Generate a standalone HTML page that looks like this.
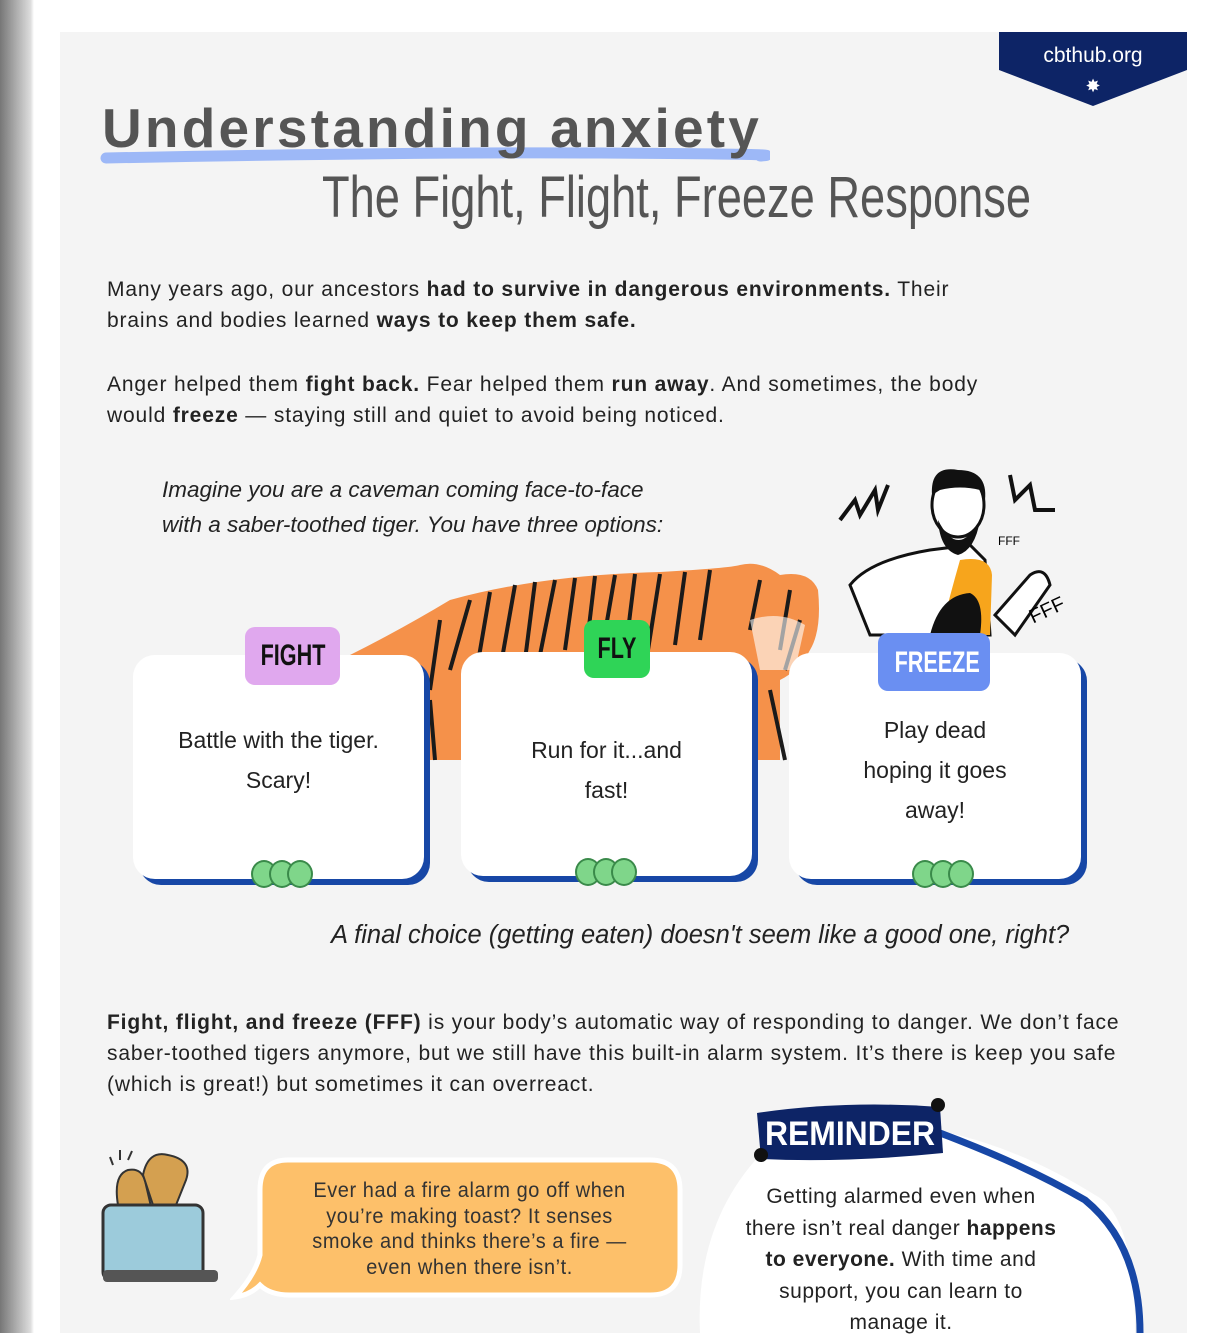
<!DOCTYPE html>
<html><head><meta charset="utf-8"><style>
*{margin:0;padding:0;box-sizing:border-box}
body{width:1213px;height:1333px;background:#fff;position:relative;overflow:hidden;font-family:"Liberation Sans",sans-serif;color:#222}
.a{position:absolute}
.shadow{left:0;top:0;width:34px;height:1333px;background:linear-gradient(90deg,#777,#bbb 60%,#ddd 90%,#fff)}
.panel{left:60px;top:32px;width:1127px;height:1301px;background:#f4f4f4}
.p{font-size:21px;line-height:31px;color:#222;white-space:nowrap;letter-spacing:0.85px}
.hand{font-style:italic;white-space:nowrap}
.card{background:#fff;border-radius:22px;box-shadow:6px 6px 0 #1747a6}
.tag{border-radius:10px;font-weight:bold;text-align:center;font-size:30px;overflow:hidden}
.tag span{display:inline-block;transform:scaleX(0.72)}
.ct{text-align:center;font-size:23px;line-height:40px;color:#222}
.dots{width:62px;height:28px}
.dots i{position:absolute;top:0;width:26px;height:28px;border-radius:50%;background:#7fd68a;border:2px solid #3a8a4a}
</style></head><body>
<div class="a shadow"></div>
<div class="a panel"></div>
<svg class="a" style="left:999px;top:32px" width="188" height="74"><polygon points="0,0 188,0 188,38 94,74 0,38" fill="#0d2466"/><text x="94" y="30" fill="#fff" font-family="Liberation Sans" font-size="21" text-anchor="middle">cbthub.org</text><text x="94" y="60" fill="#fff" font-size="18" text-anchor="middle">✸</text></svg>
<svg class="a" style="left:100px;top:140px" width="670" height="30"><path d="M6,18 Q300,12 500,13 T660,16" stroke="#9db8f7" stroke-width="11" fill="none" stroke-linecap="round"/></svg>
<div class="a" style="left:102px;top:96px;font-size:55px;font-weight:bold;color:#555;letter-spacing:3.2px;white-space:nowrap">Understanding anxiety</div>
<div class="a" style="left:322px;top:164px;font-size:58px;color:#555;transform:scaleX(0.78);transform-origin:left;white-space:nowrap">The Fight, Flight, Freeze Response</div>
<div class="a p" style="left:107px;top:274px">Many years ago, our ancestors <b>had to survive in dangerous environments.</b> Their<br>brains and bodies learned <b>ways to keep them safe.</b></div>
<div class="a p" style="left:107px;top:369px">Anger helped them <b>fight back.</b> Fear helped them <b>run away</b>. And sometimes, the body<br>would <b>freeze</b> — staying still and quiet to avoid being noticed.</div>
<div class="a hand" style="left:162px;top:472px;font-size:22.5px;line-height:35px;color:#222">Imagine you are a caveman coming face-to-face<br>with a saber-toothed tiger. You have three options:</div>
<!-- tiger -->
<svg class="a" style="left:340px;top:560px" width="490" height="210">
<path d="M10,95 Q60,70 110,40 Q200,15 320,12 Q390,8 400,5 Q420,0 440,15 Q470,10 478,30 Q482,70 470,90 Q460,110 440,120 L440,200 L80,200 Q70,180 70,150 Q60,120 30,100 Z" fill="#f5914a"/>
<g stroke="#1a1a1a" stroke-width="4" fill="none">
<path d="M130,40 L110,110"/><path d="M150,32 L135,120"/><path d="M175,25 L160,110"/><path d="M195,22 L185,100"/><path d="M215,20 L200,95"/><path d="M235,18 L225,90"/><path d="M255,16 L245,100"/><path d="M275,15 L262,90"/><path d="M295,14 L285,95"/><path d="M320,14 L308,90"/><path d="M345,12 L335,85"/><path d="M370,10 L360,80"/><path d="M100,60 L90,130"/><path d="M420,20 L410,70"/><path d="M450,30 L440,90"/><path d="M460,60 L445,110"/><path d="M90,140 L95,200"/><path d="M430,130 L445,200"/>
</g>
<path d="M410,60 Q440,50 465,65 L455,110 L420,110 Z" fill="#fff" opacity="0.6"/>
</svg>
<!-- caveman -->
<svg class="a" style="left:830px;top:465px" width="240" height="180">
<path d="M20,120 Q40,95 100,85 L140,80 L155,95 L160,170 L40,170 Z" fill="#fff" stroke="#111" stroke-width="3"/>
<path d="M130,95 Q160,90 162,110 L160,170 L110,170 Q120,130 130,95Z" fill="#f7a51c"/>
<path d="M100,170 Q110,130 140,128 Q155,135 150,170Z" fill="#111"/>
<path d="M165,150 L200,110 Q215,100 220,120 L185,170Z" fill="#fff" stroke="#111" stroke-width="3"/>
<ellipse cx="128" cy="40" rx="26" ry="32" fill="#fff" stroke="#111" stroke-width="3"/>
<path d="M102,30 Q100,0 128,5 Q158,5 155,35 L150,25 Q130,20 110,25Z" fill="#111"/>
<path d="M108,55 Q128,95 150,55 Q145,85 128,90 Q110,85 108,55Z" fill="#111"/>
<text x="168" y="80" font-size="12" font-family="Liberation Sans">FFF</text>
<text x="200" y="155" font-size="20" font-family="Liberation Sans" transform="rotate(-25 210 150)">FFF</text>
<path d="M10,55 L25,35 L30,50 L45,25 L48,45 L58,20" stroke="#111" stroke-width="4" fill="none"/>
<path d="M180,10 L185,35 L200,20 L205,45 L225,45" stroke="#111" stroke-width="4" fill="none"/>
</svg>
<!-- cards -->
<div class="a card" style="left:133px;top:655px;width:291px;height:224px"></div>
<div class="a card" style="left:461px;top:652px;width:291px;height:224px"></div>
<div class="a card" style="left:789px;top:653px;width:292px;height:226px"></div>
<div class="a tag" style="left:245px;top:627px;width:95px;height:58px;line-height:58px;background:#e0a8ee;color:#111"><span>FIGHT</span></div>
<div class="a tag" style="left:584px;top:620px;width:66px;height:58px;line-height:58px;background:#2fd457;color:#111"><span>FLY</span></div>
<div class="a tag" style="left:878px;top:633px;width:112px;height:58px;line-height:60px;background:#6a8ff2;color:#fff"><span>FREEZE</span></div>
<div class="a ct" style="left:133px;top:720px;width:291px">Battle with the tiger.<br>Scary!</div>
<div class="a ct" style="left:461px;top:730px;width:291px">Run for it...and<br>fast!</div>
<div class="a ct" style="left:789px;top:710px;width:292px">Play dead<br>hoping it goes<br>away!</div>
<div class="a dots" style="left:251px;top:860px"><i style="left:0"></i><i style="left:18px"></i><i style="left:36px"></i></div>
<div class="a dots" style="left:575px;top:858px"><i style="left:0"></i><i style="left:18px"></i><i style="left:36px"></i></div>
<div class="a dots" style="left:912px;top:860px"><i style="left:0"></i><i style="left:18px"></i><i style="left:36px"></i></div>
<div class="a hand" style="left:331px;top:921px;font-size:25.5px;color:#222">A final choice (getting eaten) doesn't seem like a good one, right?</div>
<div class="a p" style="left:107px;top:1007px"><b>Fight, flight, and freeze (FFF)</b> is your body’s automatic way of responding to danger. We don’t face<br>saber-toothed tigers anymore, but we still have this built-in alarm system.  It’s there is keep you safe<br>(which is great!) but sometimes it can overreact.</div>
<!-- toaster -->
<svg class="a" style="left:98px;top:1145px" width="125" height="145">
<path d="M20,60 Q15,30 30,25 Q45,22 48,40 L55,70Z" fill="#d4a050" stroke="#333" stroke-width="2"/>
<path d="M45,30 Q50,5 70,10 Q95,15 88,35 L78,60 L55,60Z" fill="#d4a050" stroke="#333" stroke-width="2"/>
<rect x="5" y="60" width="100" height="75" rx="8" fill="#9ccbdb" stroke="#333" stroke-width="3"/>
<rect x="5" y="125" width="115" height="12" rx="4" fill="#555"/>
<path d="M15,20 L12,12 M22,15 L22,5 M30,15 L34,6" stroke="#333" stroke-width="2"/>
</svg>
<svg class="a" style="left:230px;top:1155px" width="455" height="145">
<path d="M58,5 H420 Q450,5 450,35 V110 Q450,140 420,140 H60 Q40,140 30,130 Q20,140 5,142 Q25,120 30,100 V35 Q30,5 58,5Z" fill="#fdc06a" stroke="#fff" stroke-width="5"/>
</svg>
<div class="a" style="left:250px;top:1178px;width:440px;text-align:center;font-size:21px;line-height:25.5px;color:#333"><div style="display:inline-block;transform:scaleX(0.95);white-space:nowrap;letter-spacing:0.6px">Ever had a fire alarm go off when<br>you’re making toast? It senses<br>smoke and thinks there’s a fire —<br>even when there isn’t.</div></div>
<!-- reminder -->
<svg class="a" style="left:695px;top:1095px" width="460" height="238">
<path d="M65,60 Q0,130 5,238 H440 Q440,120 400,100 Q320,50 240,35 Q150,30 65,60Z" fill="#fff"/>
<path d="M245,38 Q330,70 390,105 Q445,150 445,238" stroke="#1747a6" stroke-width="7" fill="none"/>
<path d="M62,18 Q150,5 245,12 L248,58 Q150,68 66,64Z" fill="#0d2466"/>
<text x="155" y="50" fill="#fff" font-family="Liberation Sans" font-weight="bold" font-size="34" text-anchor="middle" textLength="170" lengthAdjust="spacingAndGlyphs">REMINDER</text>
<circle cx="243" cy="10" r="7" fill="#111"/><circle cx="66" cy="60" r="7" fill="#111"/>
</svg>
<div class="a" style="left:696px;top:1181px;width:410px;text-align:center;font-size:21px;line-height:31.5px;color:#222;white-space:nowrap;letter-spacing:0.5px">Getting alarmed even when<br>there isn’t real danger <b>happens</b><br><b>to everyone.</b> With time and<br>support, you can learn to<br>manage it.</div>
</body></html>
